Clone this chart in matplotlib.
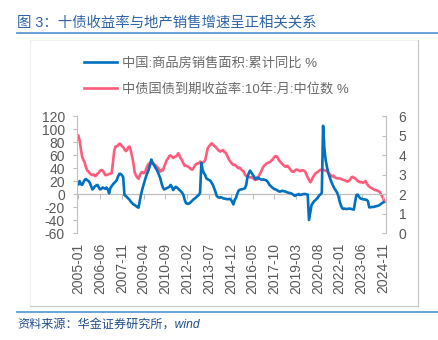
import matplotlib.pyplot as plt
import numpy as np
from matplotlib.lines import Line2D

plt.rcParams['font.family'] = ['Liberation Sans', 'Noto Sans CJK SC', 'DejaVu Sans']
plt.rcParams['axes.unicode_minus'] = False

# Monthly series starting 2005-01
# 商品房销售面积 累计同比 (%), through 2024-11
sales_area_yoy = [
    15, 20, 15, 14, 18, 22, 23, 21, 20, 17, 12, 7,                          # 2005
    9, 12, 13, 14, 10, 7, 8, 10, 9, 8, 10, 7,                               # 2006
    1, 9, 12, 15, 17, 19, 21.5, 27, 31, 31, 29, 26,                         # 2007
    -1.5, -3, -5, -7, -9, -12, -14, -16, -17, -18.5, -20, -21,              # 2008
    -10, 0, 8, 15, 21.5, 28, 33, 38, 45, 53, 47, 44.6,                      # 2009
    41, 38, 34, 29, 24, 16, 10, 7, 8, 9, 10, 11,                            # 2010
    14, 11, 6, 9, 11, 10, 8, 6, 4, 2, -1.5, -9,                             # 2011
    -14, -15, -15, -14, -12, -10, -8, -6.7, -5, -3, -1.5, 2,                # 2012
    48, 37, 32, 29, 24, 22.6, 21.5, 20.5, 17.4, 14, 8.7, 3.6,               # 2013
    -3, -5, -5.6, -5, -5.6, -6.7, -7, -7.5, -8, -8, -7.5, -8.5,             # 2014
    -12, -16, -9, -6, 0, 5, 6.5, 7, 7.5, 8, 9, 14,                          # 2015
    26, 32, 36, 33, 30, 27, 23, 25, 25, 24, 23, 22,                         # 2016
    22.5, 22, 21.5, 20.5, 18, 14.5, 12.5, 10.5, 9, 7.5, 7, 6,               # 2017
    4.5, 3.8, 4, 5, 4.5, 4, 3.5, 2.5, 2, 1.5, 1, 0,                         # 2018
    -1.5, -3, -1.5, -1, 0, -1.5, -1, -0.5, 0, 0, -0.5, -1,                  # 2019
    -40, -28, -17, -14, -11, -9.5, -7.5, -5, -2, -0.5, 2, 105,              # 2020
    70, 52, 42, 33, 27, 21, 16, 12, 8, 5, 2, -4,                            # 2021
    -12, -18, -22, -23, -22.5, -23, -23, -22.5, -22.5, -23, -23.5, -24,     # 2022
    -12, -1.5, -1, -4, -6.7, -7.5, -8, -8.3, -8.5, -9, -11, -20.5,          # 2023
    -20.5, -20, -20, -19.5, -19, -18.5, -18, -17, -15.5, -14, -12.8,        # 2024
]

# 中债国债到期收益率 10年 月中位数 (%), through 2024-12
bond_10y = [
    5.0, 4.75, 4.3, 3.9, 3.75, 3.6, 3.35, 3.2, 3.15, 3.05, 3.0, 2.97,
    3.0, 2.92, 2.95, 3.05, 3.1, 3.2, 3.23, 3.2, 3.1, 2.97, 2.97, 3.0,
    3.02, 3.05, 3.06, 3.6, 4.2, 4.43, 4.45, 4.5, 4.58, 4.55, 4.45, 4.4,
    4.29, 4.2, 4.25, 4.4, 4.43, 4.2, 3.9, 3.57, 3.1, 2.95, 2.85, 2.78,
    2.95, 3.1, 3.12, 3.07, 3.1, 3.3, 3.45, 3.55, 3.6, 3.66, 3.62, 3.55,
    3.49, 3.42, 3.35, 3.25, 3.15, 3.25, 3.2, 3.4, 3.57, 3.74, 3.82, 3.95,
    3.98, 3.91, 3.85, 3.9, 3.92, 3.98, 4.09, 3.95, 3.82, 3.72, 3.57, 3.45,
    3.45, 3.42, 3.4, 3.33, 3.27, 3.25, 3.35, 3.47, 3.53, 3.57, 3.57, 3.66,
    3.6, 3.6, 3.65, 3.74, 4.05, 4.35, 4.45, 4.52, 4.6, 4.55, 4.47, 4.42,
    4.34, 4.27, 4.2, 4.18, 4.22, 4.25, 4.15, 4.12, 3.98, 3.85, 3.72, 3.63,
    3.55, 3.49, 3.5, 3.45, 3.38, 3.32, 3.35, 3.27, 3.2, 3.15, 3.0, 2.92,
    2.9, 2.88, 2.85, 2.86, 2.82, 2.78, 2.72, 2.73, 2.76, 2.95, 3.06, 3.2,
    3.35, 3.45, 3.5, 3.57, 3.6, 3.63, 3.66, 3.74, 3.8, 3.9, 3.95, 3.92,
    3.8, 3.7, 3.62, 3.55, 3.49, 3.42, 3.4, 3.45, 3.38, 3.3, 3.2, 3.15,
    3.14, 3.2, 3.25, 3.25, 3.2, 3.18, 3.2, 3.22, 3.2, 3.15, 3.0, 2.85,
    2.72, 2.6, 2.7, 2.85, 2.95, 3.05, 3.1, 3.14, 3.2, 3.24, 3.26, 3.25,
    3.22, 3.2, 3.17, 3.1, 3.02, 2.95, 2.9, 2.95, 2.86, 2.83, 2.8, 2.8,
    2.8, 2.77, 2.74, 2.72, 2.7, 2.66, 2.64, 2.67, 2.72, 2.85, 2.88, 2.84,
    2.8, 2.74, 2.67, 2.63, 2.6, 2.62, 2.58, 2.6, 2.67, 2.55, 2.45, 2.38,
    2.33, 2.3, 2.26, 2.22, 2.2, 2.18, 2.15, 2.12, 2.0, 1.9, 1.75, 1.6,
]

tick_labels = ['2005-01', '2006-06', '2007-11', '2009-04', '2010-09', '2012-02',
               '2013-07', '2014-12', '2016-05', '2017-10', '2019-03', '2020-08',
               '2022-01', '2023-06', '2024-11']
tick_step = 17

label_sales = '中国:商品房销售面积:累计同比 %'
label_bond = '中债国债到期收益率:10年:月:中位数 %'

BLUE = '#0070C0'
PINK = '#FF5B7A'
TXT = '#595959'
AXC = '#BFBFBF'

fig = plt.figure(figsize=(4.38, 3.4), dpi=100)
ax = fig.add_axes([0.1765, 0.3147, 0.7048, 0.3441])
ax2 = ax.twinx()

x_sales = np.arange(len(sales_area_yoy))
x_bond = np.arange(len(bond_10y))

# left axis: sales, right axis: bond yield
ln1, = ax.plot(x_sales, sales_area_yoy, color=BLUE, lw=1.9, solid_joinstyle='round')
ln2, = ax2.plot(x_bond, bond_10y, color=PINK, lw=1.9, solid_joinstyle='round')
ax.set_zorder(ax2.get_zorder() + 1)
ax.patch.set_visible(False)

ax.set_xlim(-0.8, 240.1)
ax.set_ylim(-60, 120)
ax.set_yticks(np.arange(-60, 121, 20))
ax2.set_ylim(0, 6)
ax2.set_yticks(np.arange(0, 7, 1))

ticks = np.arange(len(tick_labels)) * tick_step
ax.set_xticks(ticks)
ax.set_xticklabels(tick_labels, rotation=90)
ax.tick_params(axis='x', length=0, pad=7, labelsize=10, labelcolor=TXT)
ax.tick_params(axis='y', direction='out', length=3, width=0.8, color=AXC,
               pad=6, labelsize=10, labelcolor=TXT)
ax2.tick_params(axis='y', direction='in', length=3, width=0.8, color=AXC,
                pad=9, labelsize=10, labelcolor=TXT)

for a in (ax, ax2):
    for s in ('top', 'bottom'):
        a.spines[s].set_visible(False)
ax.spines['right'].set_visible(False)
ax.spines['left'].set_color(AXC)
ax2.spines['left'].set_visible(False)
ax2.spines['right'].set_color(AXC)

# category axis crossing at zero on the left scale
zero_axis = ax.secondary_xaxis(60 / 180)
zero_axis.set_xticks(ticks)
zero_axis.set_xticklabels([])
zero_axis.tick_params(direction='out', length=3.5, width=0.8, color=AXC)
for s in zero_axis.spines.values():
    s.set_color(AXC)
    s.set_linewidth(0.9)

fig.legend([ln1, ln2], [label_sales, label_bond], loc='upper left',
           bbox_to_anchor=(84 / 438, 1 - 57 / 340), frameon=False,
           fontsize=9.5, labelcolor='#6A6A6A', handlelength=2.5, handletextpad=0.4,
           labelspacing=1.02, borderpad=0, borderaxespad=0)

# title, rules and chart frame
fig.text(17 / 438, 1 - 23 / 340, '图 3：十债收益率与地产销售增速呈正相关关系',
         color='#2F64A8', fontsize=10.4, va='center')
fig.add_artist(Line2D([17 / 438, 1], [1 - 33 / 340] * 2, color='#5B9BD5', lw=1.3))
fig.add_artist(Line2D([17 / 438, 1], [1 - 312 / 340] * 2, color='#5B9BD5', lw=1.3))
fig.add_artist(Line2D([30 / 438, 418 / 438], [1 - 40 / 340] * 2, color='#F0F0F0', lw=0.8))
fig.add_artist(Line2D([30 / 438, 30 / 438], [1 - 40 / 340, 1 - 306 / 340], color='#F0F0F0', lw=0.8))
fig.add_artist(Line2D([30 / 438, 418 / 438], [1 - 306 / 340] * 2, color='#C8C8C8', lw=0.9))
fig.add_artist(Line2D([418 / 438, 418 / 438], [1 - 40 / 340, 1 - 306 / 340], color='#C8C8C8', lw=0.9))

fig.text(17 / 438, 1 - 325 / 340, '资料来源：华金证券研究所，wind', color='#1F4E8C',
         fontsize=8.7, style='italic', va='center')

fig.savefig('out.png', dpi=100)
